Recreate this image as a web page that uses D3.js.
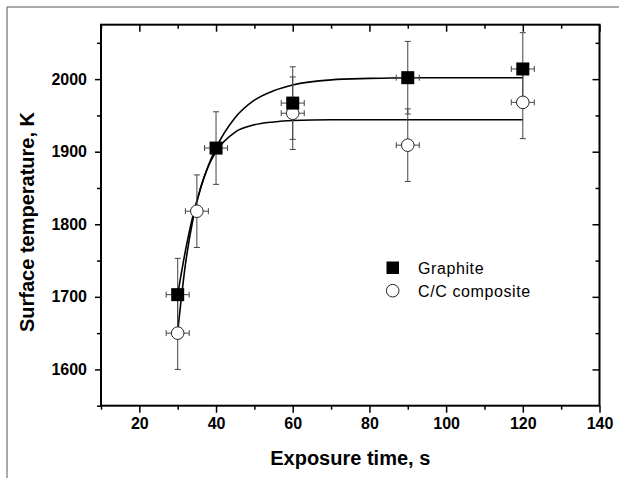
<!DOCTYPE html>
<html lang="en">
<head>
    <meta charset="UTF-8">
    <title>Surface temperature vs exposure time</title>
    <script src="https://d3js.org/d3.v7.min.js"></script>
    <style>
        body {
            margin: 0;
            padding: 0;
            background-color: white;
        }
        svg {
            display: block;
            font-family: 'Liberation Sans', Arial, sans-serif;
        }
        .tick-label {
            font-size: 16px;
            font-weight: bold;
            fill: black;
        }
        .axis-title {
            font-size: 20px;
            font-weight: bold;
            fill: black;
        }
        .legend-text {
            font-size: 16px;
            letter-spacing: 0.6px;
            fill: black;
        }
    </style>
</head>
<body>
    <svg width="619" height="478"></svg>

    <script>
        // measured points
        const graphiteTime = [30, 40, 60, 90, 120];
        const graphiteTemp = [1703, 1905, 1967, 2002, 2014];
        const ccTime = [30, 35, 60, 90, 120];
        const ccTemp = [1650, 1818, 1953, 1909, 1968];
        const tempErr = [50, 50, 50, 50, 50];
        const timeErr = [3, 3, 3, 3, 3];

        // fitted curves
        const fitTime = [30, 32, 34, 36, 38, 40, 45, 50, 55, 60, 70, 80, 90, 100, 110, 120];
        const graphiteFit = [1703, 1763, 1812, 1850, 1881, 1905, 1947, 1971, 1984, 1992, 1999, 2001, 2002, 2002, 2002, 2002];
        const ccFit = [1652, 1744, 1807, 1851, 1880, 1900, 1927, 1937, 1941, 1943, 1944, 1944, 1944, 1944, 1944, 1944];

        const xMajor = [20, 40, 60, 80, 100, 120, 140];
        const xMinor = [10, 30, 50, 70, 90, 110, 130];
        const yMajor = [1600, 1700, 1800, 1900, 2000];
        const yMinor = [1550, 1650, 1750, 1850, 1950, 2050];

        const seriesNames = ["Graphite", "C/C composite"];

        const svg = d3.select("svg");
        const plotLeft = 101, plotRight = 599.5, plotTop = 24.7, plotBottom = 405.7;

        const xScale = d3.scaleLinear().domain([10, 140]).range([plotLeft, plotRight]);
        const yScale = d3.scaleLinear().domain([1550, 2075]).range([plotBottom, plotTop]);

        // outer frame of the figure (only top + left visible)
        svg.append("line")
           .attr("x1", 7).attr("y1", 7).attr("x2", 619).attr("y2", 7)
           .attr("stroke", "#555").attr("stroke-width", 1);
        svg.append("line")
           .attr("x1", 7).attr("y1", 7).attr("x2", 7).attr("y2", 478)
           .attr("stroke", "#555").attr("stroke-width", 1);

        // axes
        function styleAxis(g) {
            g.select(".domain").remove();
            g.selectAll(".tick line").attr("stroke", "black").attr("stroke-width", 1.5);
        }

        svg.append("g")
           .attr("transform", "translate(0," + plotBottom + ")")
           .call(d3.axisBottom(xScale).tickValues(xMajor).tickSize(7).tickPadding(5))
           .call(styleAxis)
           .selectAll("text").attr("class", "tick-label").attr("font-family", null).attr("font-size", null);
        svg.append("g")
           .attr("transform", "translate(0," + plotBottom + ")")
           .call(d3.axisBottom(xScale).tickValues(xMinor).tickSize(4).tickFormat(""))
           .call(styleAxis);
        svg.append("g")
           .attr("transform", "translate(0," + plotTop + ")")
           .call(d3.axisTop(xScale).tickValues(xMajor).tickSize(-7).tickFormat(""))
           .call(styleAxis);
        svg.append("g")
           .attr("transform", "translate(0," + plotTop + ")")
           .call(d3.axisTop(xScale).tickValues(xMinor).tickSize(-4).tickFormat(""))
           .call(styleAxis);

        svg.append("g")
           .attr("transform", "translate(" + plotLeft + ",0)")
           .call(d3.axisLeft(yScale).tickValues(yMajor).tickSize(6).tickPadding(8).tickFormat(d3.format("d")))
           .call(styleAxis)
           .selectAll("text").attr("class", "tick-label").attr("font-family", null).attr("font-size", null);
        svg.append("g")
           .attr("transform", "translate(" + plotLeft + ",0)")
           .call(d3.axisLeft(yScale).tickValues(yMinor).tickSize(4).tickFormat(""))
           .call(styleAxis);
        svg.append("g")
           .attr("transform", "translate(" + plotRight + ",0)")
           .call(d3.axisRight(yScale).tickValues(yMajor).tickSize(-7).tickFormat(""))
           .call(styleAxis);
        svg.append("g")
           .attr("transform", "translate(" + plotRight + ",0)")
           .call(d3.axisRight(yScale).tickValues(yMinor.filter(function(d) { return d > 1550; })).tickSize(-4).tickFormat(""))
           .call(styleAxis);

        // plot box
        svg.append("rect")
           .attr("x", plotLeft).attr("y", plotTop)
           .attr("width", plotRight - plotLeft).attr("height", plotBottom - plotTop)
           .attr("fill", "none").attr("stroke", "black").attr("stroke-width", 2);

        // fit curves
        const line = d3.line()
            .x(function(d) { return xScale(d[0]); })
            .y(function(d) { return yScale(d[1]); })
            .curve(d3.curveMonotoneX);

        [graphiteFit, ccFit].forEach(function(fit) {
            svg.append("path")
               .datum(fitTime.map(function(t, i) { return [t, fit[i]]; }))
               .attr("d", line)
               .attr("fill", "none")
               .attr("stroke", "black")
               .attr("stroke-width", 1.6);
        });

        const graphite = graphiteTime.map(function(t, i) {
            return { t: t, T: graphiteTemp[i], eT: tempErr[i], et: timeErr[i] };
        });
        const cc = ccTime.map(function(t, i) {
            return { t: t, T: ccTemp[i], eT: tempErr[i], et: timeErr[i] };
        });

        // error bars
        function drawErrors(data) {
            const g = svg.append("g").attr("stroke", "#444").attr("stroke-width", 1);
            data.forEach(function(d) {
                const cx = xScale(d.t), cy = yScale(d.T);
                const y1 = yScale(d.T + d.eT), y2 = yScale(d.T - d.eT);
                const x1 = xScale(d.t - d.et), x2 = xScale(d.t + d.et);
                g.append("line").attr("x1", cx).attr("x2", cx).attr("y1", y1).attr("y2", y2);
                g.append("line").attr("x1", cx - 3).attr("x2", cx + 3).attr("y1", y1).attr("y2", y1);
                g.append("line").attr("x1", cx - 3).attr("x2", cx + 3).attr("y1", y2).attr("y2", y2);
                g.append("line").attr("x1", x1).attr("x2", x2).attr("y1", cy).attr("y2", cy);
                g.append("line").attr("x1", x1).attr("x2", x1).attr("y1", cy - 3).attr("y2", cy + 3);
                g.append("line").attr("x1", x2).attr("x2", x2).attr("y1", cy - 3).attr("y2", cy + 3);
            });
        }
        drawErrors(graphite);
        drawErrors(cc);

        // markers
        svg.selectAll(".cc-dot")
           .data(cc)
           .enter()
           .append("circle")
           .attr("class", "cc-dot")
           .attr("cx", function(d) { return xScale(d.t); })
           .attr("cy", function(d) { return yScale(d.T); })
           .attr("r", 6.3)
           .attr("fill", "white")
           .attr("stroke", "#222")
           .attr("stroke-width", 1);

        svg.selectAll(".graphite-sq")
           .data(graphite)
           .enter()
           .append("rect")
           .attr("class", "graphite-sq")
           .attr("x", function(d) { return xScale(d.t) - 6.5; })
           .attr("y", function(d) { return yScale(d.T) - 6.5; })
           .attr("width", 13)
           .attr("height", 13)
           .attr("fill", "black");

        // legend
        svg.append("rect")
           .attr("x", 386.5).attr("y", 261.5)
           .attr("width", 12.5).attr("height", 12.5)
           .attr("fill", "black");
        svg.append("circle")
           .attr("cx", 392.7).attr("cy", 290.7).attr("r", 6.3)
           .attr("fill", "white").attr("stroke", "#222").attr("stroke-width", 1);
        svg.selectAll(".legend-text")
           .data(seriesNames)
           .enter()
           .append("text")
           .attr("class", "legend-text")
           .attr("x", 418)
           .attr("y", function(d, i) { return 273.5 + i * 23; })
           .text(function(d) { return d; });

        // axis titles
        svg.append("text")
           .attr("class", "axis-title")
           .attr("x", (plotLeft + plotRight) / 2)
           .attr("y", 465)
           .attr("text-anchor", "middle")
           .text("Exposure time, s");

        svg.append("text")
           .attr("class", "axis-title")
           .attr("transform", "translate(34," + 222 + ") rotate(-90)")
           .attr("text-anchor", "middle")
           .text("Surface temperature, K");
    </script>
</body>
</html>
